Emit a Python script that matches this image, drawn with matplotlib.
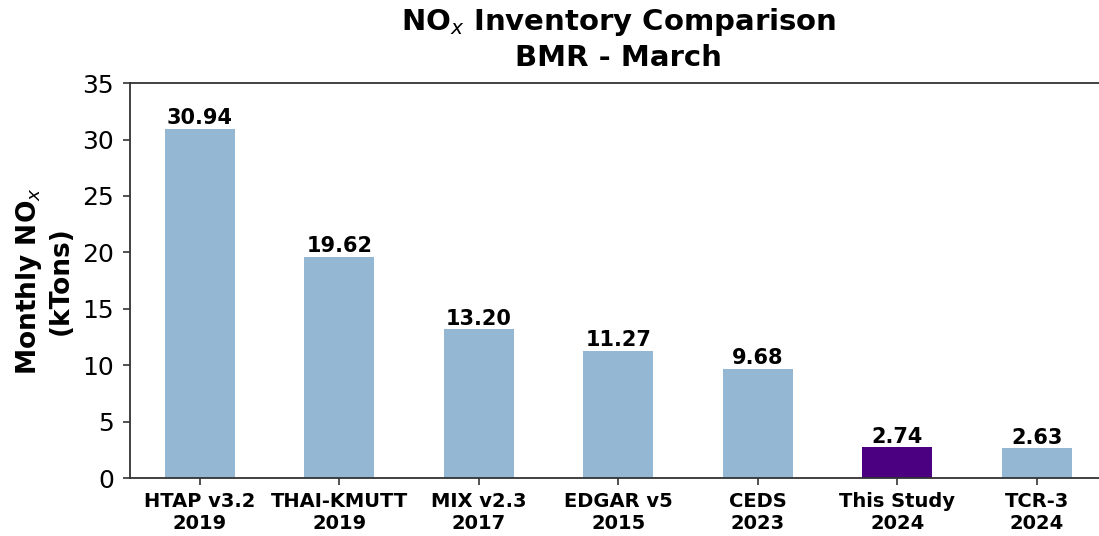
import numpy as np
import matplotlib.pyplot as plt

plt.rcParams['font.family'] = ['DejaVu Sans']

inventories = ["HTAP v3.2\n2019", "THAI-KMUTT\n2019", "MIX v2.3\n2017",
               "EDGAR v5\n2015", "CEDS\n2023", "This Study\n2024", "TCR-3\n2024"]
nox_kt = [30.94, 19.62, 13.20, 11.27, 9.68, 2.74, 2.63]

colors = ["#94b8d4"] * len(nox_kt)
colors[5] = "#4b0082"

fig = plt.figure(figsize=(10.99, 5.36), dpi=100)
ax = fig.add_axes([0.1183, 0.108, 0.8885, 0.737])

x = np.arange(len(nox_kt))
bars = ax.bar(x, nox_kt, width=0.5, color=colors)

for b, v in zip(bars, nox_kt):
    ax.text(b.get_x() + b.get_width() / 2, v + 0.05, f"{v:.2f}",
            ha="center", va="bottom", fontsize=15, fontweight="bold")

ax.set_xticks(x)
ax.set_xticklabels(inventories, fontsize=14, fontweight="bold")
ax.set_xlim(-0.5, 6.5)
ax.set_ylim(0, 35)
ax.set_yticks(np.arange(0, 36, 5))
for s in ax.spines.values():
    s.set_color("#333333")
    s.set_linewidth(1.3)
ax.tick_params(axis="both", length=5, width=1.2, color="#333333")
ax.tick_params(axis="x", pad=5)
ax.tick_params(axis="y", labelsize=18, pad=6.5)
ax.set_ylabel("Monthly NO$_x$\n(kTons)", fontsize=19, fontweight="bold", labelpad=6)
ax.set_title("NO$_x$ Inventory Comparison\nBMR - March", fontsize=21,
             fontweight="bold", pad=12, linespacing=1.3)

fig.savefig("out.png", dpi=100)
